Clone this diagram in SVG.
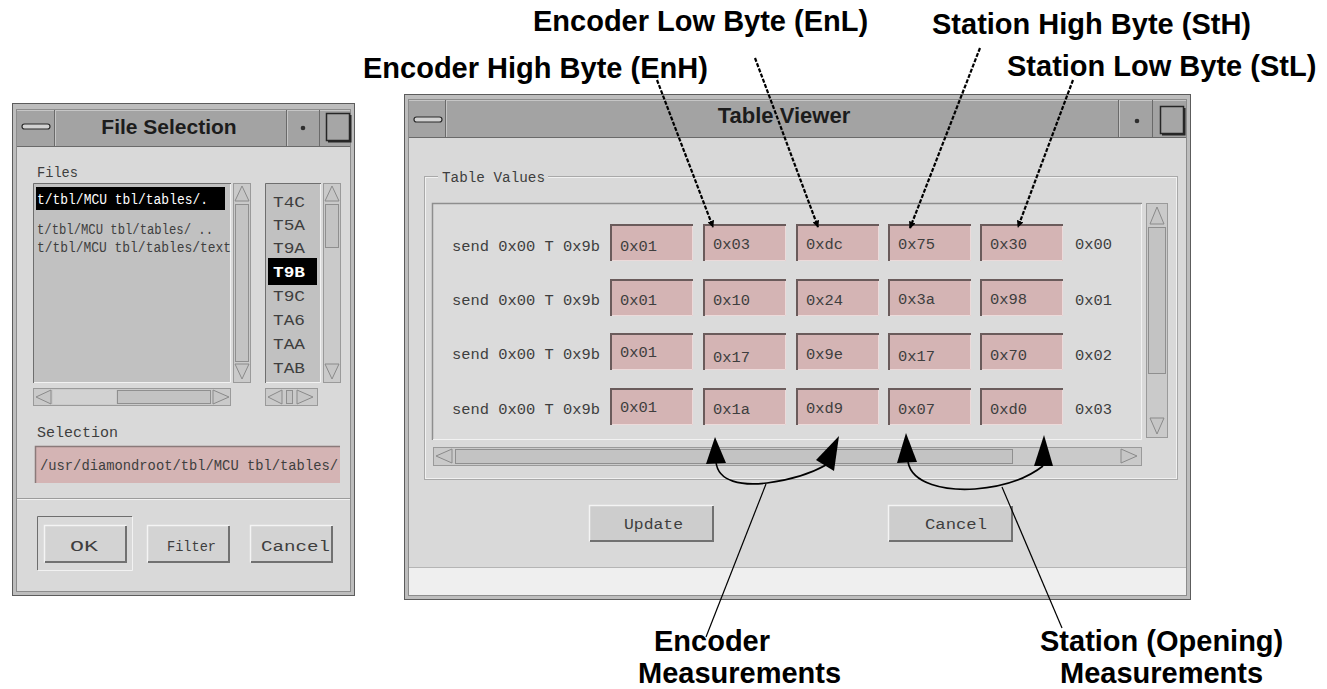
<svg xmlns="http://www.w3.org/2000/svg" xmlns:xlink="http://www.w3.org/1999/xlink" width="1327" height="689" viewBox="0 0 1327 689">
<style>
.frame{fill:#bdbdbd;stroke:#5c5c5c;stroke-width:1}
.client{fill:#d9d9d9}
.tbar{fill:#a3a3a3}
.dk{stroke:#6e6e6e;stroke-width:1;fill:none}
.lt{stroke:#f2f2f2;stroke-width:1;fill:none}
.ttl{font-family:"Liberation Sans",Arial,sans-serif;font-weight:bold;fill:#1c1c1c}
.ui{font-family:"Liberation Mono","Courier New",monospace;font-size:14px;fill:#3e3e3e}
.inv{fill:#ffffff}
.lbl{font-family:"Liberation Sans",Arial,sans-serif;font-weight:bold;font-size:29px;fill:#000}
.list{fill:#c1c1c1}
.trough{fill:#cacaca;stroke:#9a9a9a;stroke-width:1}
.arr{fill:#c6c6c6;stroke:#8a8a8a;stroke-width:1}
.thumb{fill:#c3c3c3;stroke:#8f8f8f;stroke-width:1}
.ptr{stroke:#000;stroke-width:2.2;stroke-dasharray:4 1.6;fill:none}
.crv{stroke:#000;stroke-width:1.6;fill:none}
.lead{stroke:#000;stroke-width:1.2;fill:none}
</style>
<defs>
<marker id="dot" viewBox="0 0 10 10" refX="9" refY="5" markerWidth="7" markerHeight="7" markerUnits="userSpaceOnUse" orient="auto">
<path d="M0 0 L10 5 L0 10 Z" fill="#000"/>
</marker>
<g id="cell">
<rect width="83" height="37" fill="#d4b4b4"/>
<path d="M1 37V1H83" stroke="#6a5b5b" stroke-width="2" fill="none"/>
<path d="M2 36.5H82.5V2" stroke="#ecdada" stroke-width="1" fill="none"/>
</g>
<g id="btn">
<rect width="83" height="38" fill="#d3d3d3"/>
<path d="M0.5 37.5V0.5H82.5" stroke="#f4f4f4" stroke-width="1.5" fill="none"/>
<path d="M1 37H82V1" stroke="#717171" stroke-width="2" fill="none"/>
</g>
<g id="btn2">
<rect width="125" height="37" fill="#cdcdcd"/>
<path d="M0.5 36.5V0.5H124.5" stroke="#f4f4f4" stroke-width="1.5" fill="none"/>
<path d="M1 36H124V1" stroke="#717171" stroke-width="2" fill="none"/>
</g>
</defs>

<rect width="1327" height="689" fill="#ffffff"/>

<!-- File Selection dialog -->
<g id="file-selection">
<rect class="frame" x="12.5" y="103.5" width="342" height="492"/>
<rect class="client" x="16.5" y="109.5" width="334" height="482" stroke="#8c8c8c"/>
<rect class="tbar" x="17" y="110" width="333" height="36"/>
<line x1="17" y1="146.5" x2="350" y2="146.5" stroke="#6a6a6a"/>
<line x1="17" y1="110.5" x2="350" y2="110.5" stroke="#c6c6c6"/>
<line x1="54.5" y1="110" x2="54.5" y2="146" stroke="#6a6a6a"/>
<line x1="55.5" y1="110" x2="55.5" y2="146" stroke="#c6c6c6"/>
<rect x="22" y="124" width="28" height="5" rx="2.5" fill="#d2d2d2" stroke="#2a2a2a" stroke-width="1.2"/>
<text class="ttl" x="169" y="134" font-size="21" text-anchor="middle">File Selection</text>
<line x1="286.5" y1="110" x2="286.5" y2="146" stroke="#6a6a6a"/>
<line x1="287.5" y1="110" x2="287.5" y2="146" stroke="#c6c6c6"/>
<circle cx="303" cy="128" r="2.3" fill="#2e2e2e"/>
<line x1="319.5" y1="110" x2="319.5" y2="146" stroke="#6a6a6a"/>
<rect x="326.5" y="113.5" width="23" height="27" fill="#a6a6a6" stroke="#262626" stroke-width="1.5"/>
<path d="M328 141.5H350.5V115" stroke="#262626" stroke-width="2" fill="none"/>

<text class="ui" x="37" y="177" textLength="41" lengthAdjust="spacingAndGlyphs">Files</text>

<!-- left list -->
<rect class="list" x="33" y="183" width="198" height="200"/>
<path d="M33.5 383V183.5H231" class="dk"/>
<path d="M34 382.5H230.5V184" class="lt"/>
<rect x="36" y="187" width="189" height="23" fill="#000"/>
<text class="ui inv" x="37" y="204" font-size="12" textLength="171" lengthAdjust="spacingAndGlyphs">t/tbl/MCU tbl/tables/.</text>
<text class="ui" x="37" y="234" font-size="12" textLength="176" lengthAdjust="spacingAndGlyphs">t/tbl/MCU tbl/tables/ ..</text>
<text class="ui" x="37" y="252" font-size="12" textLength="194" lengthAdjust="spacingAndGlyphs">t/tbl/MCU tbl/tables/text</text>
<rect class="trough" x="233.5" y="183.5" width="17" height="199"/>
<polygon class="arr" points="242,186 235,201 249,201"/>
<rect class="thumb" x="235.5" y="204.5" width="13" height="157"/>
<polygon class="arr" points="235,364 249,364 242,379"/>
<rect class="trough" x="33.5" y="388.5" width="197" height="17"/>
<polygon class="arr" points="36,397 51,390 51,404"/>
<rect x="53" y="390" width="63" height="14" fill="#d2d2d2"/>
<rect class="thumb" x="117.5" y="390.5" width="93" height="13"/>
<polygon class="arr" points="213,390 213,404 229,397"/>

<!-- right list -->
<rect class="list" x="265" y="183" width="56" height="200"/>
<path d="M265.5 383V183.5H321" class="dk"/>
<path d="M266 382.5H320.5V184" class="lt"/>
<text class="ui" x="273" y="207" font-size="15" textLength="32" lengthAdjust="spacingAndGlyphs">T4C</text>
<text class="ui" x="273" y="230" font-size="15" textLength="32" lengthAdjust="spacingAndGlyphs">T5A</text>
<text class="ui" x="273" y="253" font-size="15" textLength="32" lengthAdjust="spacingAndGlyphs">T9A</text>
<rect x="268" y="258" width="49" height="27" fill="#000"/>
<text class="ui inv" x="273" y="277" font-size="15" font-weight="bold" textLength="32" lengthAdjust="spacingAndGlyphs">T9B</text>
<text class="ui" x="273" y="301" font-size="15" textLength="32" lengthAdjust="spacingAndGlyphs">T9C</text>
<text class="ui" x="273" y="325" font-size="15" textLength="32" lengthAdjust="spacingAndGlyphs">TA6</text>
<text class="ui" x="273" y="349" font-size="15" textLength="32" lengthAdjust="spacingAndGlyphs">TAA</text>
<text class="ui" x="273" y="373" font-size="15" textLength="32" lengthAdjust="spacingAndGlyphs">TAB</text>
<rect class="trough" x="323.5" y="183.5" width="17" height="199"/>
<polygon class="arr" points="332,186 325,201 339,201"/>
<rect class="thumb" x="325.5" y="204.5" width="13" height="43"/>
<polygon class="arr" points="325,364 339,364 332,379"/>
<rect class="trough" x="265.5" y="388.5" width="52" height="17"/>
<polygon class="arr" points="268,397 282,390 282,404"/>
<rect class="thumb" x="286.5" y="390.5" width="6" height="13"/>
<polygon class="arr" points="297,390 297,404 313,397"/>

<text class="ui" x="37" y="437" font-size="15" textLength="81" lengthAdjust="spacingAndGlyphs">Selection</text>
<rect x="35" y="446" width="305" height="37" fill="#d4b4b4"/>
<path d="M35.5 483V446.5H340" stroke="#8a7a7a" stroke-width="1.5" fill="none"/>
<text class="ui" x="40" y="470" font-size="13" textLength="298" lengthAdjust="spacingAndGlyphs">/usr/diamondroot/tbl/MCU tbl/tables/</text>

<line x1="17" y1="498.5" x2="350" y2="498.5" stroke="#9c9c9c"/>
<line x1="17" y1="499.5" x2="350" y2="499.5" stroke="#f2f2f2"/>

<path d="M37.5 570V516.5H132" class="dk" stroke="#9a9a9a"/>
<path d="M38 570.5H132.5V517" class="lt"/>
<use xlink:href="#btn" x="44" y="525"/>
<use xlink:href="#btn" x="147" y="525"/>
<use xlink:href="#btn" x="250" y="525"/>
<text class="ui" x="70" y="551" font-size="15" textLength="28" lengthAdjust="spacingAndGlyphs">OK</text>
<text class="ui" x="167" y="551" font-size="15" textLength="49" lengthAdjust="spacingAndGlyphs">Filter</text>
<text class="ui" x="261" y="551" font-size="15" textLength="69" lengthAdjust="spacingAndGlyphs">Cancel</text>
</g>

<!-- Table Viewer -->
<g id="table-viewer">
<rect class="frame" x="404.5" y="94.5" width="786" height="505"/>
<rect class="client" x="408.5" y="99.5" width="778" height="496" stroke="#8c8c8c"/>
<rect class="tbar" x="409" y="100" width="777" height="37"/>
<line x1="409" y1="137.5" x2="1186" y2="137.5" stroke="#6a6a6a"/>
<line x1="409" y1="100.5" x2="1186" y2="100.5" stroke="#c6c6c6"/>
<line x1="445.5" y1="100" x2="445.5" y2="137" stroke="#6a6a6a"/>
<line x1="446.5" y1="100" x2="446.5" y2="137" stroke="#c6c6c6"/>
<rect x="414" y="117" width="28" height="5" rx="2.5" fill="#d2d2d2" stroke="#2a2a2a" stroke-width="1.2"/>
<text class="ttl" x="784" y="123" font-size="22" text-anchor="middle">Table Viewer</text>
<line x1="1118.5" y1="100" x2="1118.5" y2="137" stroke="#6a6a6a"/>
<line x1="1119.5" y1="100" x2="1119.5" y2="137" stroke="#c6c6c6"/>
<circle cx="1137" cy="121" r="2.3" fill="#2e2e2e"/>
<line x1="1152.5" y1="100" x2="1152.5" y2="137" stroke="#6a6a6a"/>
<rect x="1160.5" y="106.5" width="23" height="27" fill="#a6a6a6" stroke="#262626" stroke-width="1.5"/>
<path d="M1162 134.5H1184.5V108" stroke="#262626" stroke-width="2" fill="none"/>

<rect x="409" y="568" width="777" height="27" fill="#efefef"/>
<line x1="409" y1="567.5" x2="1186" y2="567.5" stroke="#b5b5b5"/>

<!-- group box -->
<rect x="424.5" y="176.5" width="753" height="303" fill="none" stroke="#a9a9a9"/>
<rect x="425.5" y="177.5" width="751" height="301" fill="none" stroke="#f1f1f1"/>
<rect x="438" y="168" width="110" height="16" fill="#d9d9d9"/>
<text class="ui" x="442" y="182" font-size="13" textLength="103" lengthAdjust="spacingAndGlyphs">Table Values</text>

<!-- table area -->
<rect x="432" y="203" width="710" height="237" fill="#dbdbdb"/>
<path d="M432.5 440V203.5H1142" stroke="#8e8e8e" stroke-width="1.5" fill="none"/>
<path d="M433 439.5H1141.5V204" class="lt"/>

<rect class="trough" x="1146.5" y="203.5" width="21" height="234"/>
<polygon class="arr" points="1157,207 1150,224 1164,224"/>
<rect class="thumb" x="1148.5" y="227.5" width="17" height="146"/>
<polygon class="arr" points="1150,418 1164,418 1157,434"/>

<rect class="trough" x="433.5" y="447.5" width="708" height="18"/>
<polygon class="arr" points="436,456 452,449 452,463"/>
<rect class="thumb" x="455.5" y="449.5" width="557" height="14"/>
<polygon class="arr" points="1121,449 1121,463 1137,456"/>

<use xlink:href="#btn2" x="589" y="505"/>
<use xlink:href="#btn2" x="888" y="505"/>
<text class="ui" x="624" y="529" font-size="14" textLength="59" lengthAdjust="spacingAndGlyphs">Update</text>
<text class="ui" x="925" y="529" font-size="14" textLength="62" lengthAdjust="spacingAndGlyphs">Cancel</text>
</g>

<!-- table rows -->
<g id="row1">
<text class="ui" x="452" y="251" font-size="15" textLength="148" lengthAdjust="spacingAndGlyphs">send 0x00 T 0x9b</text>
<use xlink:href="#cell" x="610" y="224"/><use xlink:href="#cell" x="703" y="224"/><use xlink:href="#cell" x="796" y="224"/><use xlink:href="#cell" x="888" y="224"/><use xlink:href="#cell" x="980" y="224"/>
<text class="ui" x="620" y="251" textLength="37" lengthAdjust="spacingAndGlyphs">0x01</text>
<text class="ui" x="713" y="249" textLength="37" lengthAdjust="spacingAndGlyphs">0x03</text>
<text class="ui" x="806" y="249" textLength="37" lengthAdjust="spacingAndGlyphs">0xdc</text>
<text class="ui" x="898" y="249" textLength="37" lengthAdjust="spacingAndGlyphs">0x75</text>
<text class="ui" x="990" y="249" textLength="37" lengthAdjust="spacingAndGlyphs">0x30</text>
<text class="ui" x="1075" y="249" textLength="37" lengthAdjust="spacingAndGlyphs">0x00</text>
</g>
<g id="row2">
<text class="ui" x="452" y="305" font-size="15" textLength="148" lengthAdjust="spacingAndGlyphs">send 0x00 T 0x9b</text>
<use xlink:href="#cell" x="610" y="279"/><use xlink:href="#cell" x="703" y="279"/><use xlink:href="#cell" x="796" y="279"/><use xlink:href="#cell" x="888" y="279"/><use xlink:href="#cell" x="980" y="279"/>
<text class="ui" x="620" y="305" textLength="37" lengthAdjust="spacingAndGlyphs">0x01</text>
<text class="ui" x="713" y="305" textLength="37" lengthAdjust="spacingAndGlyphs">0x10</text>
<text class="ui" x="806" y="305" textLength="37" lengthAdjust="spacingAndGlyphs">0x24</text>
<text class="ui" x="898" y="304" textLength="37" lengthAdjust="spacingAndGlyphs">0x3a</text>
<text class="ui" x="990" y="304" textLength="37" lengthAdjust="spacingAndGlyphs">0x98</text>
<text class="ui" x="1075" y="305" textLength="37" lengthAdjust="spacingAndGlyphs">0x01</text>
</g>
<g id="row3">
<text class="ui" x="452" y="359" font-size="15" textLength="148" lengthAdjust="spacingAndGlyphs">send 0x00 T 0x9b</text>
<use xlink:href="#cell" x="610" y="333"/><use xlink:href="#cell" x="703" y="333"/><use xlink:href="#cell" x="796" y="333"/><use xlink:href="#cell" x="888" y="333"/><use xlink:href="#cell" x="980" y="333"/>
<text class="ui" x="620" y="357" textLength="37" lengthAdjust="spacingAndGlyphs">0x01</text>
<text class="ui" x="713" y="362" textLength="37" lengthAdjust="spacingAndGlyphs">0x17</text>
<text class="ui" x="806" y="359" textLength="37" lengthAdjust="spacingAndGlyphs">0x9e</text>
<text class="ui" x="898" y="361" textLength="37" lengthAdjust="spacingAndGlyphs">0x17</text>
<text class="ui" x="990" y="360" textLength="37" lengthAdjust="spacingAndGlyphs">0x70</text>
<text class="ui" x="1075" y="360" textLength="37" lengthAdjust="spacingAndGlyphs">0x02</text>
</g>
<g id="row4">
<text class="ui" x="452" y="414" font-size="15" textLength="148" lengthAdjust="spacingAndGlyphs">send 0x00 T 0x9b</text>
<use xlink:href="#cell" x="610" y="388"/><use xlink:href="#cell" x="703" y="388"/><use xlink:href="#cell" x="796" y="388"/><use xlink:href="#cell" x="888" y="388"/><use xlink:href="#cell" x="980" y="388"/>
<text class="ui" x="620" y="412" textLength="37" lengthAdjust="spacingAndGlyphs">0x01</text>
<text class="ui" x="713" y="414" textLength="37" lengthAdjust="spacingAndGlyphs">0x1a</text>
<text class="ui" x="806" y="413" textLength="37" lengthAdjust="spacingAndGlyphs">0xd9</text>
<text class="ui" x="898" y="414" textLength="37" lengthAdjust="spacingAndGlyphs">0x07</text>
<text class="ui" x="990" y="414" textLength="37" lengthAdjust="spacingAndGlyphs">0xd0</text>
<text class="ui" x="1075" y="414" textLength="37" lengthAdjust="spacingAndGlyphs">0x03</text>
</g>

<!-- annotation labels -->
<g id="label-enl"><text class="lbl" x="533" y="31">Encoder Low Byte (EnL)</text></g>
<g id="label-sth"><text class="lbl" x="932" y="34">Station High Byte (StH)</text></g>
<g id="label-enh"><text class="lbl" x="363" y="78">Encoder High Byte (EnH)</text></g>
<g id="label-stl"><text class="lbl" x="1007" y="76">Station Low Byte (StL)</text></g>
<g id="label-enc-meas">
<text class="lbl" x="654" y="651">Encoder</text>
<text class="lbl" x="638" y="683">Measurements</text>
</g>
<g id="label-sta-meas">
<text class="lbl" x="1040" y="651">Station (Opening)</text>
<text class="lbl" x="1060" y="683">Measurements</text>
</g>

<!-- connectors -->
<g id="connectors">
<path class="ptr" d="M657 80 L713 227" marker-end="url(#dot)"/>
<path class="ptr" d="M755 58 L818 227" marker-end="url(#dot)"/>
<path class="ptr" d="M980 48 L910 228" marker-end="url(#dot)"/>
<path class="ptr" d="M1073 80 L1018 227" marker-end="url(#dot)"/>

<path class="crv" d="M716 462 C718 482 742 486 767 483 C790 480 810 474 826 465"/>
<polygon points="715,437 706,464 726,463" fill="#000"/>
<polygon points="839,436 816,460 834,471" fill="#000"/>
<path class="lead" d="M766 484 L706 637"/>

<path class="crv" d="M908 462 C912 484 945 491 975 489 C1000 487 1025 480 1043 466"/>
<polygon points="906,433 897,463 917,462" fill="#000"/>
<polygon points="1044,435 1034,466 1053,466" fill="#000"/>
<path class="lead" d="M1002 487 L1062 628"/>
</g>
</svg>
